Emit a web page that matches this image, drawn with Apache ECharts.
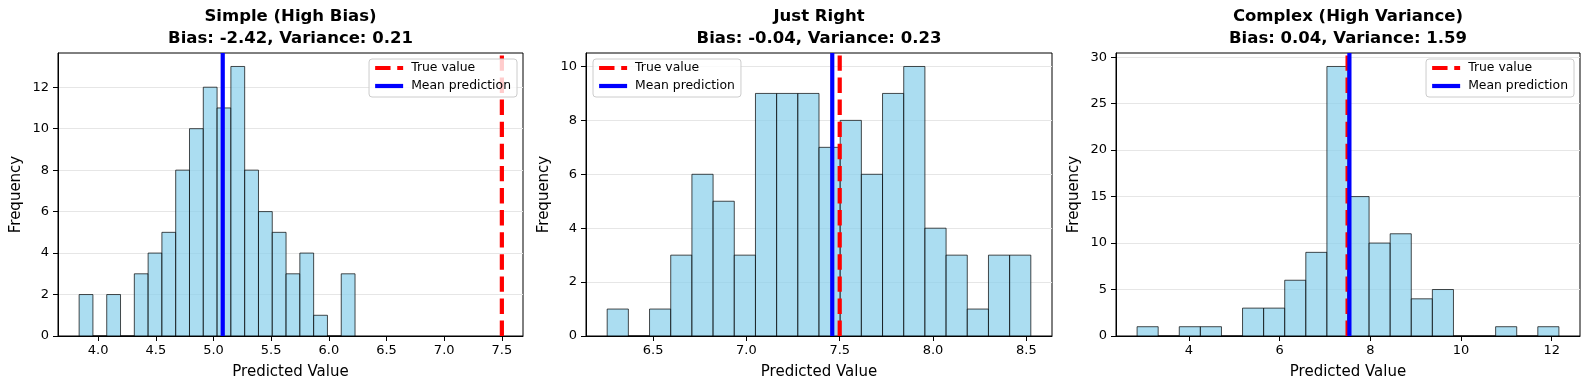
<!DOCTYPE html>
<html>
<head>
<meta charset="utf-8">
<script src="https://cdn.jsdelivr.net/npm/echarts@6/dist/echarts.min.js"></script>
<style>
  html, body { margin: 0; padding: 0; background: #ffffff; }
  #chart { width: 1589px; height: 390px; }
</style>
</head>
<body>
<div id="chart"></div>
<script>
// ---------------- data ----------------
const panelTitles = [
  'Simple (High Bias)\nBias: -2.42, Variance: 0.21',
  'Just Right\nBias: -0.04, Variance: 0.23',
  'Complex (High Variance)\nBias: 0.04, Variance: 1.59'
];
// histogram counts (20 equal-width bins each) and the bin range [first edge, last edge]
const simpleCounts    = [2, 0, 2, 0, 3, 4, 5, 8, 10, 12, 11, 13, 8, 6, 5, 3, 4, 1, 0, 3];
const simpleRange     = [3.835, 6.227];
const justRightCounts = [1, 0, 1, 3, 6, 5, 3, 9, 9, 9, 7, 8, 6, 9, 10, 4, 3, 1, 3, 3];
const justRightRange  = [6.254, 8.524];
const complexCounts   = [1, 0, 1, 1, 0, 3, 3, 6, 9, 29, 15, 10, 11, 4, 5, 0, 0, 1, 0, 1];
const complexRange    = [2.859, 12.159];

const trueValue = 7.5;
const meanPredictions = [5.08, 7.46, 7.54];

const xTicks1 = [4.0, 4.5, 5.0, 5.5, 6.0, 6.5, 7.0, 7.5];
const xTicks2 = [6.5, 7.0, 7.5, 8.0, 8.5];
const xTicks3 = [4, 6, 8, 10, 12];
const yTicks1 = [0, 2, 4, 6, 8, 10, 12];
const yTicks2 = [0, 2, 4, 6, 8, 10];
const yTicks3 = [0, 5, 10, 15, 20, 25, 30];

// ---------------- layout / style ----------------
const FONT = 'DejaVu Sans';
const panels = [
  { counts: simpleCounts,    range: simpleRange,    xTicks: xTicks1, yTicks: yTicks1, yStep: 2, dec: 1,
    grid: { left: 58, width: 465 }, legend: { right: 1072 } },
  { counts: justRightCounts, range: justRightRange, xTicks: xTicks2, yTicks: yTicks2, yStep: 2, dec: 1,
    grid: { left: 586, width: 466 }, legend: { left: 593 } },
  { counts: complexCounts,   range: complexRange,   xTicks: xTicks3, yTicks: yTicks3, yStep: 5, dec: 0,
    grid: { left: 1116, width: 464 }, legend: { right: 15 } }
];
const GRID_TOP = 53, GRID_H = 283;

const option = {
  animation: false,
  backgroundColor: '#ffffff',
  title: [], grid: [], xAxis: [], yAxis: [], legend: [], series: []
};

panels.forEach((p, i) => {
  const nb = p.counts.length;
  const bw = (p.range[1] - p.range[0]) / nb;
  const bins = p.counts.map((c, k) => [p.range[0] + k * bw, p.range[0] + (k + 1) * bw, c]);
  const lo = Math.min(p.range[0], trueValue, meanPredictions[i]);
  const hi = Math.max(p.range[1], trueValue, meanPredictions[i]);
  const pad = 0.05 * (hi - lo);
  const yMax = 1.05 * Math.max(...p.counts);

  option.grid.push({
    left: p.grid.left, width: p.grid.width, top: GRID_TOP, height: GRID_H,
    show: true, borderColor: '#000', borderWidth: 1, backgroundColor: 'transparent'
  });
  option.title.push({
    text: panelTitles[i],
    left: p.grid.left + p.grid.width / 2, top: 6, padding: 0, textAlign: 'center',
    textStyle: { fontFamily: FONT, fontSize: 16.5, fontWeight: 'bold', color: '#000', lineHeight: 21.5 }
  });
  option.xAxis.push({
    gridIndex: i, type: 'value', min: lo - pad, max: hi + pad,
    name: 'Predicted Value', nameLocation: 'middle', nameGap: 29,
    nameTextStyle: { fontFamily: FONT, fontSize: 15, color: '#000' },
    axisLine: { show: true, onZero: false, lineStyle: { color: '#000', width: 1 } },
    axisTick: { show: true, length: 5, customValues: p.xTicks, lineStyle: { color: '#000', width: 1 } },
    axisLabel: { customValues: p.xTicks, formatter: v => Number(v).toFixed(p.dec),
                 fontFamily: FONT, fontSize: 13, color: '#000', margin: 8 },
    splitLine: { show: false }
  });
  option.yAxis.push({
    gridIndex: i, type: 'value', min: 0, max: yMax, interval: p.yStep,
    name: 'Frequency', nameLocation: 'middle', nameGap: 34,
    nameTextStyle: { fontFamily: FONT, fontSize: 15, color: '#000' },
    axisLine: { show: true, onZero: false, lineStyle: { color: '#000', width: 1 } },
    axisTick: { show: true, length: 5, customValues: p.yTicks, lineStyle: { color: '#000', width: 1 } },
    axisLabel: { customValues: p.yTicks, fontFamily: FONT, fontSize: 13, color: '#000', margin: 9 },
    splitLine: { show: true, lineStyle: { color: '#e6e6e6', width: 1 } }
  });
  option.legend.push(Object.assign({
    top: 59, orient: 'vertical', align: 'left', selectedMode: false,
    data: ['True value', 'Mean prediction'],
    itemWidth: 28, itemHeight: 14, itemGap: 6, padding: [3, 6, 5, 4],
    itemStyle: { opacity: 0 },
    lineStyle: { width: 4.2 },
    backgroundColor: 'rgba(255,255,255,0.8)', borderColor: '#cccccc', borderWidth: 1, borderRadius: 3,
    textStyle: { fontFamily: FONT, fontSize: 12.4, color: '#000', padding: [0, 0, 0, 3] }
  }, p.legend));

  option.series.push({
    type: 'custom', name: 'hist' + i, xAxisIndex: i, yAxisIndex: i,
    data: bins, encode: { x: [0, 1], y: 2 }, z: 2,
    renderItem: (params, api) => {
      const a = api.coord([api.value(0), api.value(2)]);
      const b = api.coord([api.value(1), 0]);
      return {
        type: 'rect',
        shape: { x: a[0], y: a[1], width: b[0] - a[0], height: b[1] - a[1] },
        style: { fill: 'rgba(135,206,235,0.7)', stroke: 'rgba(0,0,0,0.7)', lineWidth: 1 }
      };
    }
  });
  option.series.push({
    type: 'line', name: 'True value', xAxisIndex: i, yAxisIndex: i, z: 3,
    symbol: 'none', silent: true,
    data: [[trueValue, 0], [trueValue, yMax]],
    lineStyle: { color: '#ff0000', width: 4.2, type: [15.4, 6.7], cap: 'butt' },
    itemStyle: { color: '#ff0000' }
  });
  option.series.push({
    type: 'line', name: 'Mean prediction', xAxisIndex: i, yAxisIndex: i, z: 4,
    symbol: 'none', silent: true,
    data: [[meanPredictions[i], 0], [meanPredictions[i], yMax]],
    lineStyle: { color: '#0000ff', width: 4.2, type: 'solid' },
    itemStyle: { color: '#0000ff' }
  });
});

const chart = echarts.init(document.getElementById('chart'), null, { renderer: 'canvas' });
chart.setOption(option);
</script>
</body>
</html>
